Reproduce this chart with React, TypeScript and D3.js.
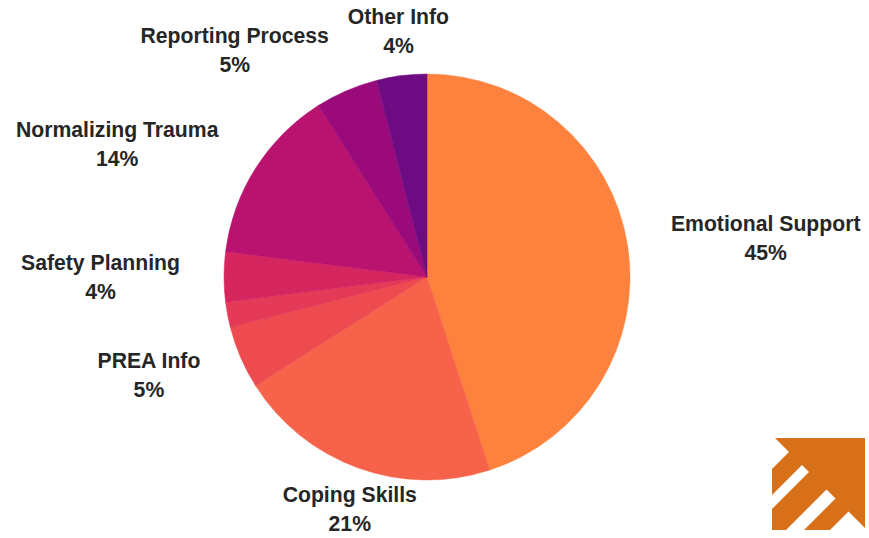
import React, { useEffect, useRef } from "react";
import * as d3 from "d3";

// slices, clockwise from 12 o'clock
const categories = [
  "Emotional Support",
  "Coping Skills",
  "PREA Info",
  "Other Resources",
  "Safety Planning",
  "Normalizing Trauma",
  "Reporting Process",
  "Other Info",
];
const values = [45, 21, 5, 2, 4, 14, 5, 4];
const colors = [
  "#fd823e",
  "#f6634a",
  "#ee4b50",
  "#e43a57",
  "#d6265f",
  "#b9126f",
  "#9a0a7b",
  "#6f0b82",
];
// the 2% slice has no label in the original
const showLabel = [true, true, true, false, true, true, true, true];

type Slice = { name: string; value: number; color: string; show: boolean };

const App: React.FC = () => {
  const ref = useRef<SVGSVGElement>(null);

  useEffect(() => {
    const width = 869;
    const height = 538;
    const cx = 427;
    const cy = 277;
    const radius = 203;

    const data: Slice[] = categories.map((name, i) => ({
      name,
      value: values[i],
      color: colors[i],
      show: showLabel[i],
    }));

    const svg = d3.select(ref.current);
    svg.selectAll("*").remove();
    svg.attr("width", width).attr("height", height);

    svg.append("rect").attr("width", width).attr("height", height).attr("fill", "#ffffff");

    const pie = d3.pie<Slice>().value((d) => d.value).sort(null);
    const arc = d3.arc<d3.PieArcDatum<Slice>>().innerRadius(0).outerRadius(radius);
    const arcs = pie(data);

    const g = svg.append("g").attr("transform", `translate(${cx},${cy})`);

    g.selectAll("path")
      .data(arcs)
      .enter()
      .append("path")
      .attr("d", arc)
      .attr("fill", (d) => d.data.color)
      .attr("stroke", (d) => d.data.color)
      .attr("stroke-width", 0.5);

    // Labels: two centred lines (name, percent), block pushed outward along the mid angle
    const total = d3.sum(values);
    const labelR = 228;
    const gap = 19;
    const lineH = 29;
    const blockH = 38;

    g.selectAll("g.label")
      .data(arcs.filter((d) => d.data.show))
      .enter()
      .append("g")
      .attr("class", "label")
      .each(function (d) {
        const a = (d.startAngle + d.endAngle) / 2;
        const s = Math.sin(a);
        const c = Math.cos(a);
        const t = d3
          .select(this)
          .append("text")
          .attr("text-anchor", "middle")
          .attr("font-family", "'Liberation Sans', Arial, sans-serif")
          .attr("font-weight", "bold")
          .attr("font-size", 21.2)
          .attr("fill", "#262626");
        const l1 = t.append("tspan").text(d.data.name);
        const l2 = t.append("tspan").text(`${Math.round((d.data.value / total) * 100)}%`);
        const w = Math.max(
          (l1.node() as SVGTSpanElement).getComputedTextLength(),
          (l2.node() as SVGTSpanElement).getComputedTextLength()
        );
        let x = labelR * s;
        if (s > 0.37) x += gap * Math.abs(s) + w / 2;
        else if (s < -0.37) x -= gap * Math.abs(s) + w / 2;
        const yc = -labelR * c - (c * blockH) / 2;
        l1.attr("x", x).attr("y", yc - lineH / 2 + 7);
        l2.attr("x", x).attr("y", yc + lineH / 2 + 7);
      });

    // Logo in the lower-right corner
    const logo = { x0: 772, y0: 438, x1: 865, y1: 530, k: -337 };
    const defs = svg.append("defs");
    defs
      .append("clipPath")
      .attr("id", "logo-clip")
      .append("rect")
      .attr("x", logo.x0)
      .attr("y", logo.y0)
      .attr("width", logo.x1 - logo.x0)
      .attr("height", logo.y1 - logo.y0);
    const lg = svg.append("g").attr("clip-path", "url(#logo-clip)");
    lg.append("rect")
      .attr("x", logo.x0)
      .attr("y", logo.y0)
      .attr("width", logo.x1 - logo.x0)
      .attr("height", logo.y1 - logo.y0)
      .attr("fill", "#d8701a");
    const bands = [
      [1150, 1241],
      [1267, 1281],
      [1316, 1334],
      [1360, 1450],
    ];
    const hyp = (sv: number) => [(sv - logo.k) / 2, (sv + logo.k) / 2];
    bands.forEach(([s1, s2]) => {
      const a = hyp(s1);
      const b = hyp(s2);
      const pts = [a, b, [b[0] - 150, b[1] + 150], [a[0] - 150, a[1] + 150]];
      lg.append("polygon")
        .attr("points", pts.map((p) => p.join(",")).join(" "))
        .attr("fill", "#ffffff");
    });
  }, []);

  return (
    <div style={{ position: "absolute", left: 0, top: 0 }}>
      <svg ref={ref} style={{ display: "block" }}></svg>
    </div>
  );
};

export default App;
